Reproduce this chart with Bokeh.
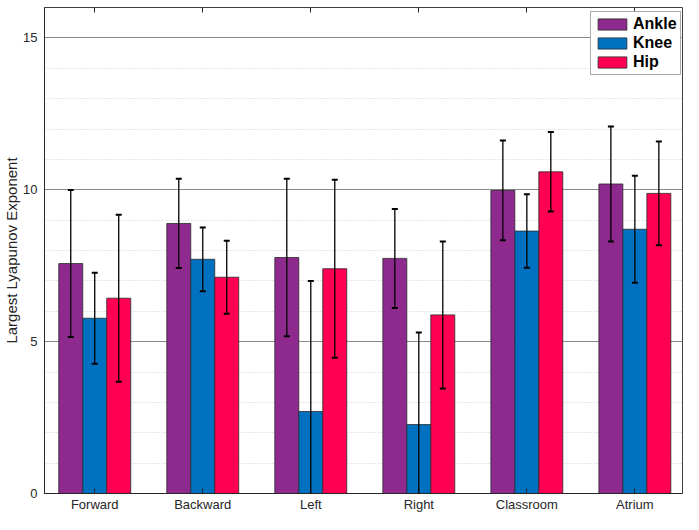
from bokeh.plotting import figure
from bokeh.models import (ColumnDataSource, FixedTicker, LinearAxis, Whisker, TeeHead,
                          Range1d, Legend)
from bokeh.embed import file_html
from bokeh.resources import INLINE

# ---- data ----
categories = ["Forward", "Backward", "Left", "Right", "Classroom", "Atrium"]
series = ["Ankle", "Knee", "Hip"]
ankle_mean = [7.57, 8.89, 7.77, 7.74, 9.98, 10.19]
ankle_sd = [2.42, 1.47, 2.59, 1.63, 1.64, 1.89]
knee_mean = [5.77, 7.71, 2.70, 2.27, 8.64, 8.70]
knee_sd = [1.50, 1.05, 4.30, 3.03, 1.21, 1.76]
hip_mean = [6.43, 7.12, 7.40, 5.88, 10.59, 9.88]
hip_sd = [2.75, 1.20, 2.93, 2.42, 1.31, 1.71]
y_ticks = [0, 5, 10, 15]
colors = ["#8E2A8E", "#0071C1", "#FF0052"]

TXT = "#262626"
FONT = "Liberation Sans"

p = figure(width=683, height=514, output_backend="svg", toolbar_location=None,
           x_range=Range1d(0.535, 6.441), y_range=Range1d(0, 16),
           min_border_left=0, min_border_right=1, min_border_top=7, min_border_bottom=19,
           background_fill_color="white", border_fill_color="white")
p.outline_line_color = "#404040"
p.outline_line_width = 1

bar_w = 0.222
offsets = [-0.222, 0.0, 0.222]
means = [ankle_mean, knee_mean, hip_mean]
sds = [ankle_sd, knee_sd, hip_sd]

legend_items = []
sources = []
for name, m, s, off, col in zip(series, means, sds, offsets, colors):
    xs = [i + 1 + off for i in range(len(categories))]
    src = ColumnDataSource(dict(x=xs, top=m,
                                upper=[a + b for a, b in zip(m, s)],
                                lower=[a - b for a, b in zip(m, s)]))
    r = p.vbar(x="x", top="top", width=bar_w, bottom=0, source=src,
               fill_color=col, line_color="#2a2a2a", line_width=0.8)
    legend_items.append((name, [r]))
    sources.append(src)

for src in sources:
    w = Whisker(source=src, base="x", upper="upper", lower="lower",
                line_color="black", line_width=1.3, level="overlay",
                upper_head=TeeHead(size=6, line_width=2, line_color="black"),
                lower_head=TeeHead(size=6, line_width=2, line_color="black"))
    p.add_layout(w)

# x axis
p.xaxis.ticker = FixedTicker(ticks=list(range(1, len(categories) + 1)))
p.xaxis.major_label_overrides = {i + 1: c for i, c in enumerate(categories)}
p.xaxis.major_tick_in = 5
p.xaxis.major_tick_out = 0
p.xaxis.minor_tick_line_color = None
p.xaxis.major_label_standoff = 3
p.xaxis.axis_line_color = TXT
p.xaxis.major_tick_line_color = TXT
p.xgrid.grid_line_color = None

# y axis
p.yaxis.ticker = FixedTicker(ticks=y_ticks, minor_ticks=list(range(0, 17)))
p.yaxis.major_tick_in = 0
p.yaxis.major_tick_out = 0
p.yaxis.minor_tick_line_color = None
p.yaxis.major_label_standoff = 3
p.yaxis.axis_label = "Largest Lyapunov Exponent"
p.yaxis.axis_label_standoff = 0
p.yaxis.axis_line_color = TXT
p.ygrid.grid_line_color = "#8a8a8a"
p.ygrid.grid_line_width = 1
p.ygrid.minor_grid_line_color = "#cfcfcf"
p.ygrid.minor_grid_line_dash = "1 2"
p.ygrid.minor_grid_line_width = 1

for ax in (p.xaxis[0], p.yaxis[0]):
    ax.major_label_text_font = FONT
    ax.major_label_text_font_size = "13px"
    ax.major_label_text_color = TXT
    ax.axis_label_text_font = FONT
    ax.axis_label_text_font_size = "15px"
    ax.axis_label_text_font_style = "normal"
    ax.axis_label_text_color = TXT

# top ticks (no labels)
top_ax = LinearAxis(ticker=FixedTicker(ticks=list(range(1, len(categories) + 1))),
                    major_label_text_font_size="0px", major_label_text_color=None,
                    major_label_standoff=0,
                    major_tick_in=5, major_tick_out=0, axis_line_color=None,
                    major_tick_line_color=TXT, minor_tick_line_color=None)
p.add_layout(top_ax, "above")

legend = Legend(items=legend_items, location=(546, 418),
                label_text_font=FONT, label_text_font_size="16px",
                label_text_font_style="bold", label_text_color="black",
                glyph_width=36, glyph_height=14, label_height=14,
                spacing=1, padding=3, margin=0, label_standoff=3,
                border_line_color="#555555", border_line_width=1,
                background_fill_color="white", background_fill_alpha=1.0)
p.add_layout(legend)

open("out.html", "w").write(file_html(p, INLINE))
